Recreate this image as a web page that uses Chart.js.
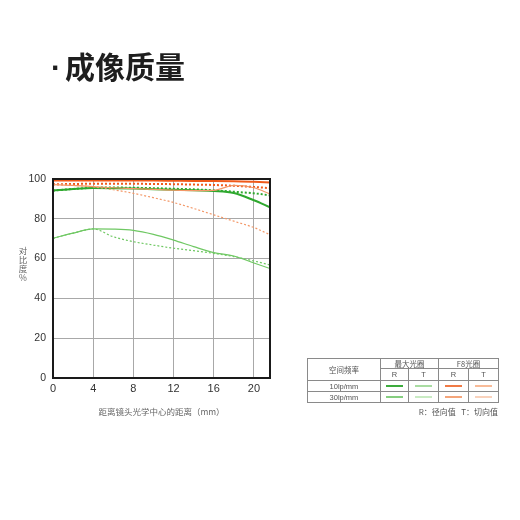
<!DOCTYPE html>
<html>
<head>
<meta charset="utf-8">
<script src="https://cdn.jsdelivr.net/npm/chart.js@4/dist/chart.umd.min.js"></script>
<style>
  html, body { margin: 0; padding: 0; background: #fff; }
  #wrap { position: relative; width: 520px; height: 520px; overflow: hidden;
          font-family: "Noto Sans CJK SC", "Liberation Sans", sans-serif; }
  #mtf { position: absolute; left: 0; top: 0; }
  #title { position: absolute; left: 51px; top: 48px; font-size: 30px; font-weight: bold;
           color: #1e1e1e; line-height: 34px; white-space: nowrap; }
  #title .dot { font-family: "Liberation Sans", sans-serif; margin-right: 4px; }
  .yt { position: absolute; left: 15px; width: 16px; font-size: 8.5px; line-height: 9px;
        color: #666; text-align: center; white-space: nowrap; }
  #xtitle { position: absolute; left: 53px; width: 217px; top: 405px; font-size: 8.5px;
            color: #666; text-align: center; white-space: nowrap; }
  #legend { position: absolute; left: 307px; top: 358px; border-collapse: collapse;
            font-size: 7.5px; color: #555; table-layout: fixed; }
  #legend td { border: 1px solid #8a8a8a; padding: 0; text-align: center; line-height: 9px; }
  #legend .lat { font-family: "Liberation Sans", sans-serif; font-size: 7.5px; }
  .smp { display: block; width: 17px; height: 2px; margin: 0 auto; }
  #note { position: absolute; left: 380px; width: 118px; top: 406px; font-size: 8px;
          color: #555; text-align: right; white-space: nowrap; }
</style>
</head>
<body>
<div id="wrap">
  <canvas id="mtf" width="520" height="520"></canvas>
  <div id="title"><span class="dot">·</span>成像质量</div>
  <div class="yt" style="top:246px">对</div>
  <div class="yt" style="top:255px">比</div>
  <div class="yt" style="top:264px">度</div>
  <div class="yt" style="top:273px">%</div>
  <div id="xtitle">距离镜头光学中心的距离（mm）</div>
  <table id="legend">
    <colgroup><col style="width:73px"><col style="width:28px"><col style="width:30px"><col style="width:30px"><col style="width:30px"></colgroup>
    <tr style="height:10px"><td rowspan="2">空间频率</td><td colspan="2">最大光圈</td><td colspan="2">F8光圈</td></tr>
    <tr style="height:12px"><td class="lat">R</td><td class="lat">T</td><td class="lat">R</td><td class="lat">T</td></tr>
    <tr style="height:11px"><td class="lat">10lp/mm</td>
      <td><span class="smp" style="background:#3dab3d"></span></td>
      <td><span class="smp" style="background:#a9dca2"></span></td>
      <td><span class="smp" style="background:#f07a45"></span></td>
      <td><span class="smp" style="background:#f8bb98"></span></td></tr>
    <tr style="height:11px"><td class="lat">30lp/mm</td>
      <td><span class="smp" style="background:#86ce80"></span></td>
      <td><span class="smp" style="background:#c9ebc3"></span></td>
      <td><span class="smp" style="background:#f4a57a"></span></td>
      <td><span class="smp" style="background:#f9d2bc"></span></td></tr>
  </table>
  <div id="note">R：径向值&nbsp;&nbsp;&nbsp;T：切向值</div>
</div>
<script>
// Distance from the optical centre (mm) and contrast values (%) per curve
const distances = [0, 2, 4, 6, 8, 10, 12, 14, 16, 18, 20, 21.6];
const maxAp10R = [94.2, 95.0, 95.5, 95.4, 95.2, 94.9, 94.6, 94.3, 94.0, 93.0, 89.3, 85.8];
const maxAp10T = [94.2, 95.0, 95.6, 95.7, 95.6, 95.4, 95.1, 94.8, 94.3, 93.6, 92.8, 91.8];
const maxAp30R = [70.2, 72.8, 74.9, 74.8, 74.2, 72.2, 69.3, 66.0, 63.0, 61.3, 57.8, 55.0];
const maxAp30T = [70.2, 72.8, 74.9, 71.0, 68.5, 66.8, 65.2, 64.0, 62.6, 61.0, 58.8, 56.8];
const f8_10R = [99.2, 99.2, 99.2, 99.2, 99.2, 99.2, 99.1, 99.0, 99.0, 98.9, 98.6, 98.3];
const f8_10T = [97.3, 97.5, 97.6, 97.6, 97.6, 97.5, 97.4, 97.2, 97.0, 96.6, 96.0, 95.4];
const f8_30R = [97.2, 96.8, 96.2, 95.6, 95.2, 94.8, 94.4, 94.2, 94.3, 96.8, 95.6, 92.5];
const f8_30T = [97.2, 96.8, 96.0, 94.6, 92.8, 90.6, 88.2, 85.2, 82.0, 78.8, 75.6, 72.0];
const xTicks = [0, 4, 8, 12, 16, 20];
const yTicks = [0, 20, 40, 60, 80, 100];

const pts = vals => vals.map((v, i) => ({ x: distances[i], y: v }));
const line = (label, vals, color, width, dotted) => ({
  label, data: pts(vals), borderColor: color, borderWidth: width,
  borderDash: dotted ? [2, 2] : [], pointRadius: 0, fill: false,
  cubicInterpolationMode: 'monotone'
});

// outer frame around the plotting area
const frame = {
  id: 'frame',
  afterDatasetsDraw(chart) {
    const a = chart.chartArea, c = chart.ctx;
    c.save();
    c.strokeStyle = '#1a1a1a';
    c.lineWidth = 2;
    c.strokeRect(a.left, a.top, a.right - a.left, a.bottom - a.top);
    c.restore();
  }
};

new Chart(document.getElementById('mtf'), {
  type: 'line',
  data: {
    datasets: [
      line('最大光圈 30lp/mm T', maxAp30T, '#6fc863', 1.2, true),
      line('最大光圈 30lp/mm R', maxAp30R, '#6fc863', 1.2, false),
      line('F8光圈 30lp/mm T', f8_30T, '#f39868', 1.2, true),
      line('F8光圈 30lp/mm R', f8_30R, '#f39868', 1.2, false),
      line('最大光圈 10lp/mm T', maxAp10T, '#2ea82e', 2, true),
      line('最大光圈 10lp/mm R', maxAp10R, '#2ea82e', 2, false),
      line('F8光圈 10lp/mm T', f8_10T, '#f05a1a', 2, true),
      line('F8光圈 10lp/mm R', f8_10R, '#f05a1a', 2, false)
    ]
  },
  options: {
    responsive: false,
    animation: false,
    devicePixelRatio: 1,
    layout: { padding: { top: 179, right: 250, left: 0, bottom: 0 } },
    plugins: { legend: { display: false }, tooltip: { enabled: false } },
    scales: {
      x: {
        type: 'linear', min: 0, max: 21.6,
        afterBuildTicks: s => { s.ticks = xTicks.map(v => ({ value: v })); },
        afterFit: s => { s.height = 142; },
        ticks: { color: '#333', font: { size: 11, family: 'Liberation Sans' }, padding: 4 },
        grid: { color: '#a8a8a8', lineWidth: 1, drawTicks: false },
        border: { display: true, color: '#1a1a1a', width: 2 }
      },
      y: {
        min: 0, max: 100,
        afterBuildTicks: s => { s.ticks = yTicks.map(v => ({ value: v })); },
        afterFit: s => { s.width = 53; },
        ticks: { color: '#333', font: { size: 10.5, family: 'Liberation Sans' }, padding: 7 },
        grid: { color: '#a8a8a8', lineWidth: 1, drawTicks: false },
        border: { display: true, color: '#1a1a1a', width: 2 }
      }
    }
  },
  plugins: [frame]
});
</script>
</body>
</html>
